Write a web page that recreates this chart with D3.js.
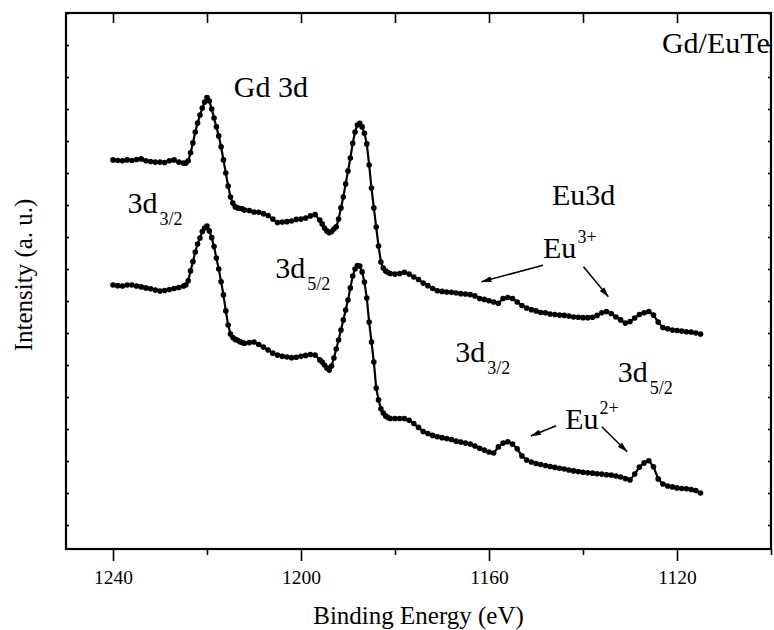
<!DOCTYPE html>
<html>
<head>
<meta charset="utf-8">
<script src="https://cdn.jsdelivr.net/npm/d3@7"></script>
</head>
<body style="margin:0">
<div id="chart"></div>
<script>
// binding energy (eV), finer steps across the Gd peaks
const energy = [
  1240,1239,1238,1237,1236,1235,1234,1233,1232,1231,1230,1229,1228,1227,1226,1225,
  1224.5,1224,1223.5,1223,1222.5,1222,1221.5,1221,1220.5,1220,1219.5,1219,1218.5,1218,1217.5,1217,1216.5,1216,1215.5,1215,1214.5,1214,1213.5,1213,1212.5,1212,
  1211,1210,1209,1208,1207,1206,1205,1204,1203,1202,1201,1200,1199,1198,1197,1196,
  1195.5,1195,1194.5,1194,1193.5,1193,1192.5,1192,1191.5,1191,1190.5,1190,1189.5,1189,1188.5,1188,1187.5,1187,1186.5,1186,1185.5,1185,1184.5,1184,1183.5,1183,1182.5,1182,1181.5,1181,
  1180,1179,1178,1177,1176,1175,1174,1173,1172,1171,1170,1169,1168,1167,1166,1165,1164,1163,1162,1161,
  1160,1159,1158,1157,1156,1155,1154,1153,1152,1151,1150,1149,1148,1147,1146,1145,1144,1143,1142,1141,
  1140,1139,1138,1137,1136,1135,1134,1133,1132,1131,1130,1129,1128,1127,1126,1125,1124,1123,1122,1121,
  1120,1119,1118,1117,1116,1115
];

// upper spectrum
const upperSpectrum = [
  11.41,11.39,11.38,11.41,11.39,11.42,11.44,11.38,11.36,11.34,11.34,11.33,11.38,11.41,11.34,11.31,
  11.31,11.38,11.63,11.94,12.28,12.56,12.81,13.03,13.22,13.36,13.25,13.00,12.72,12.44,12.16,11.82,11.41,11.00,10.59,10.25,10.06,9.94,9.91,9.89,9.88,9.84,
  9.83,9.78,9.77,9.73,9.67,9.56,9.45,9.47,9.48,9.50,9.55,9.56,9.59,9.66,9.70,9.53,
  9.41,9.28,9.19,9.13,9.17,9.25,9.32,9.56,9.91,10.25,10.66,11.06,11.47,11.93,12.28,12.50,12.55,12.44,12.24,11.91,11.25,10.53,9.91,9.31,8.72,8.22,8.03,7.94,7.89,7.86,
  7.84,7.86,7.90,7.84,7.75,7.67,7.56,7.48,7.39,7.32,7.30,7.28,7.27,7.25,7.23,7.22,7.20,7.16,7.08,7.05,
  7.01,6.97,6.93,7.08,7.11,7.08,6.97,6.86,6.78,6.73,6.69,6.64,6.63,6.59,6.58,6.56,6.55,6.53,6.50,6.49,
  6.48,6.48,6.49,6.55,6.63,6.67,6.61,6.50,6.41,6.31,6.36,6.47,6.58,6.63,6.67,6.56,6.34,6.17,6.13,6.09,
  6.08,6.06,6.04,6.03,6.00,5.97
];

// lower spectrum
const lowerSpectrum = [
  7.50,7.48,7.47,7.50,7.50,7.47,7.44,7.41,7.38,7.34,7.31,7.33,7.36,7.39,7.42,7.47,
  7.50,7.63,7.94,8.23,8.53,8.78,8.97,9.17,9.28,9.34,9.19,8.98,8.70,8.34,8.00,7.60,7.19,6.69,6.25,5.97,5.86,5.80,5.77,5.73,5.70,5.68,
  5.70,5.72,5.64,5.56,5.47,5.37,5.31,5.27,5.25,5.23,5.24,5.27,5.30,5.33,5.31,5.16,
  5.09,5.00,4.91,4.84,4.97,5.22,5.50,5.78,6.09,6.41,6.72,7.03,7.41,7.78,8.00,8.11,8.09,7.91,7.59,7.09,6.34,5.72,5.09,4.28,3.91,3.63,3.50,3.41,3.36,3.33,
  3.33,3.33,3.33,3.27,3.17,3.05,2.92,2.86,2.80,2.76,2.73,2.70,2.67,2.62,2.59,2.56,2.53,2.47,2.40,2.34,
  2.28,2.25,2.44,2.56,2.60,2.53,2.38,2.16,2.03,1.97,1.92,1.89,1.86,1.83,1.80,1.77,1.75,1.72,1.69,1.67,
  1.65,1.63,1.62,1.60,1.59,1.57,1.56,1.53,1.50,1.45,1.41,1.59,1.81,1.94,2.01,1.82,1.44,1.28,1.22,1.19,
  1.16,1.14,1.13,1.11,1.08,1.00
];

const xMajorTicks = [1240, 1200, 1160, 1120];
const xMinorTicks = [1220, 1180, 1140, 1100];
const xTopTicks = [1240, 1220, 1200, 1180, 1160, 1140, 1120];
const yTicks = [0,1,2,3,4,5,6,7,8,9,10,11,12,13,14,15,16];

// labels, placed in data units: [energy, intensity, main, script, kind]
const labels = [
  [1214.3, 13.38, "Gd 3d", "", ""],
  [1123.2, 14.75, "Gd/EuTe", "", ""],
  [1236.9, 9.75, "3d", "3/2", "sub"],
  [1205.5, 7.72, "3d", "5/2", "sub"],
  [1146.6, 10.0, "Eu3d", "", ""],
  [1148.5, 8.34, "Eu", "3+", "sup"],
  [1167.2, 5.10, "3d", "3/2", "sub"],
  [1132.6, 4.48, "3d", "5/2", "sub"],
  [1143.8, 3.00, "Eu", "2+", "sup"]
];

// arrows: [fromE, fromI, toE, toI]
const arrows = [
  [1148.5, 8.12, 1161.6, 7.60],
  [1139.9, 8.07, 1134.6, 7.13],
  [1145.7, 3.10, 1151.1, 2.78],
  [1136.0, 3.07, 1130.6, 2.29]
];

const fontName = "'Liberation Serif'";
const width = 774;
const height = 630;
const margin = { top: 13, right: 3, bottom: 81, left: 66 };

const svg = d3.select("#chart")
  .append("svg")
  .attr("width", width)
  .attr("height", height)
  .style("font-family", fontName);

const x = d3.scaleLinear()
  .domain([1250, 1100])
  .range([margin.left, width - margin.right]);

const y = d3.scaleLinear()
  .domain([-0.75, 16])
  .range([height - margin.bottom, margin.top]);

const plotLeft = margin.left, plotRight = width - margin.right;
const plotBottom = height - margin.bottom, plotTop = margin.top;

// spectra
const line = d3.line()
  .x(function (d) { return x(d[0]); })
  .y(function (d) { return y(d[1]); });

const series = [
  energy.map(function (e, i) { return [e, upperSpectrum[i]]; }),
  energy.map(function (e, i) { return [e, lowerSpectrum[i]]; })
];

for (let s of series) {
  svg.append("path")
    .datum(s)
    .attr("d", line)
    .attr("fill", "none")
    .attr("stroke", "#000")
    .attr("stroke-width", 2.2)
    .attr("stroke-linejoin", "round");

  svg.append("g")
    .selectAll("circle")
    .data(s)
    .enter()
    .append("circle")
    .attr("cx", function (d) { return x(d[0]); })
    .attr("cy", function (d) { return y(d[1]); })
    .attr("r", 2.8)
    .attr("fill", "#000");
}

// annotations
svg.append("g")
  .selectAll("text")
  .data(labels)
  .enter()
  .append("text")
  .attr("x", function (d) { return x(d[0]); })
  .attr("y", function (d) { return y(d[1]); })
  .attr("font-size", 30)
  .style("font-family", fontName)
  .each(function (d) {
    let t = d3.select(this);
    t.append("tspan").text(d[2]);
    if (d[4] === "sub") {
      t.append("tspan").attr("dx", 2).attr("dy", 12).attr("font-size", 18).text(d[3]);
    } else if (d[4] === "sup") {
      t.append("tspan").attr("dx", 1).attr("dy", -15).attr("font-size", 18).text(d[3]);
    }
  });

svg.append("defs").append("marker")
  .attr("id", "head")
  .attr("viewBox", "0 0 10 6")
  .attr("refX", 10)
  .attr("refY", 3)
  .attr("markerUnits", "userSpaceOnUse")
  .attr("markerWidth", 10)
  .attr("markerHeight", 6)
  .attr("orient", "auto")
  .append("path")
  .attr("d", "M0,0L10,3L0,6Z")
  .attr("fill", "#000");

svg.selectAll(".arrow")
  .data(arrows)
  .enter()
  .append("line")
  .attr("class", "arrow")
  .attr("x1", function (d) { return x(d[0]); })
  .attr("y1", function (d) { return y(d[1]); })
  .attr("x2", function (d) { return x(d[2]); })
  .attr("y2", function (d) { return y(d[3]); })
  .attr("stroke", "#000")
  .attr("stroke-width", 1.5)
  .attr("marker-end", "url(#head)");

// axes: bottom major ticks with labels
const bottomMajor = svg.append("g")
  .attr("transform", "translate(0," + plotBottom + ")")
  .call(d3.axisBottom(x).tickValues(xMajorTicks).tickSize(12).tickPadding(9).tickFormat(d3.format("d")));
bottomMajor.attr("font-family", null);
bottomMajor.selectAll("text")
  .attr("font-size", 19.5)
  .attr("fill", "#000")
  .style("font-family", fontName);

svg.append("g")
  .attr("transform", "translate(0," + plotBottom + ")")
  .call(d3.axisBottom(x).tickValues(xMinorTicks).tickSize(6).tickFormat(""));

// top ticks, pointing inward
svg.append("g")
  .attr("transform", "translate(0," + plotTop + ")")
  .call(d3.axisBottom(x).tickValues(xTopTicks).tickSize(10).tickFormat(""));

// left and right small ticks
svg.append("g")
  .attr("transform", "translate(" + plotLeft + ",0)")
  .call(d3.axisRight(y).tickValues(yTicks).tickSize(3).tickFormat(""));
svg.append("g")
  .attr("transform", "translate(" + plotRight + ",0)")
  .call(d3.axisLeft(y).tickValues(yTicks).tickSize(3).tickFormat(""));

svg.selectAll(".domain").remove();
svg.selectAll(".tick line").attr("stroke", "#000").attr("stroke-width", 1.6);

// axis titles
svg.append("g")
  .selectAll("text")
  .data([
    ["Binding Energy (eV)", "translate(" + ((plotLeft + plotRight) / 2) + ",624)"],
    ["Intensity (a. u.)", "translate(32," + ((plotBottom + plotTop) / 2 - 6) + ")rotate(-90)"]
  ])
  .enter()
  .append("text")
  .attr("transform", function (d) { return d[1]; })
  .attr("text-anchor", "middle")
  .attr("font-size", 25)
  .style("font-family", fontName)
  .text(function (d) { return d[0]; });

// frame drawn last so the clipped "Gd/EuTe" sits under it
svg.append("rect")
  .attr("x", plotLeft)
  .attr("y", plotTop)
  .attr("width", plotRight - plotLeft)
  .attr("height", plotBottom - plotTop)
  .attr("fill", "none")
  .attr("stroke", "#000")
  .attr("stroke-width", 2.2);
</script>
</body>
</html>
